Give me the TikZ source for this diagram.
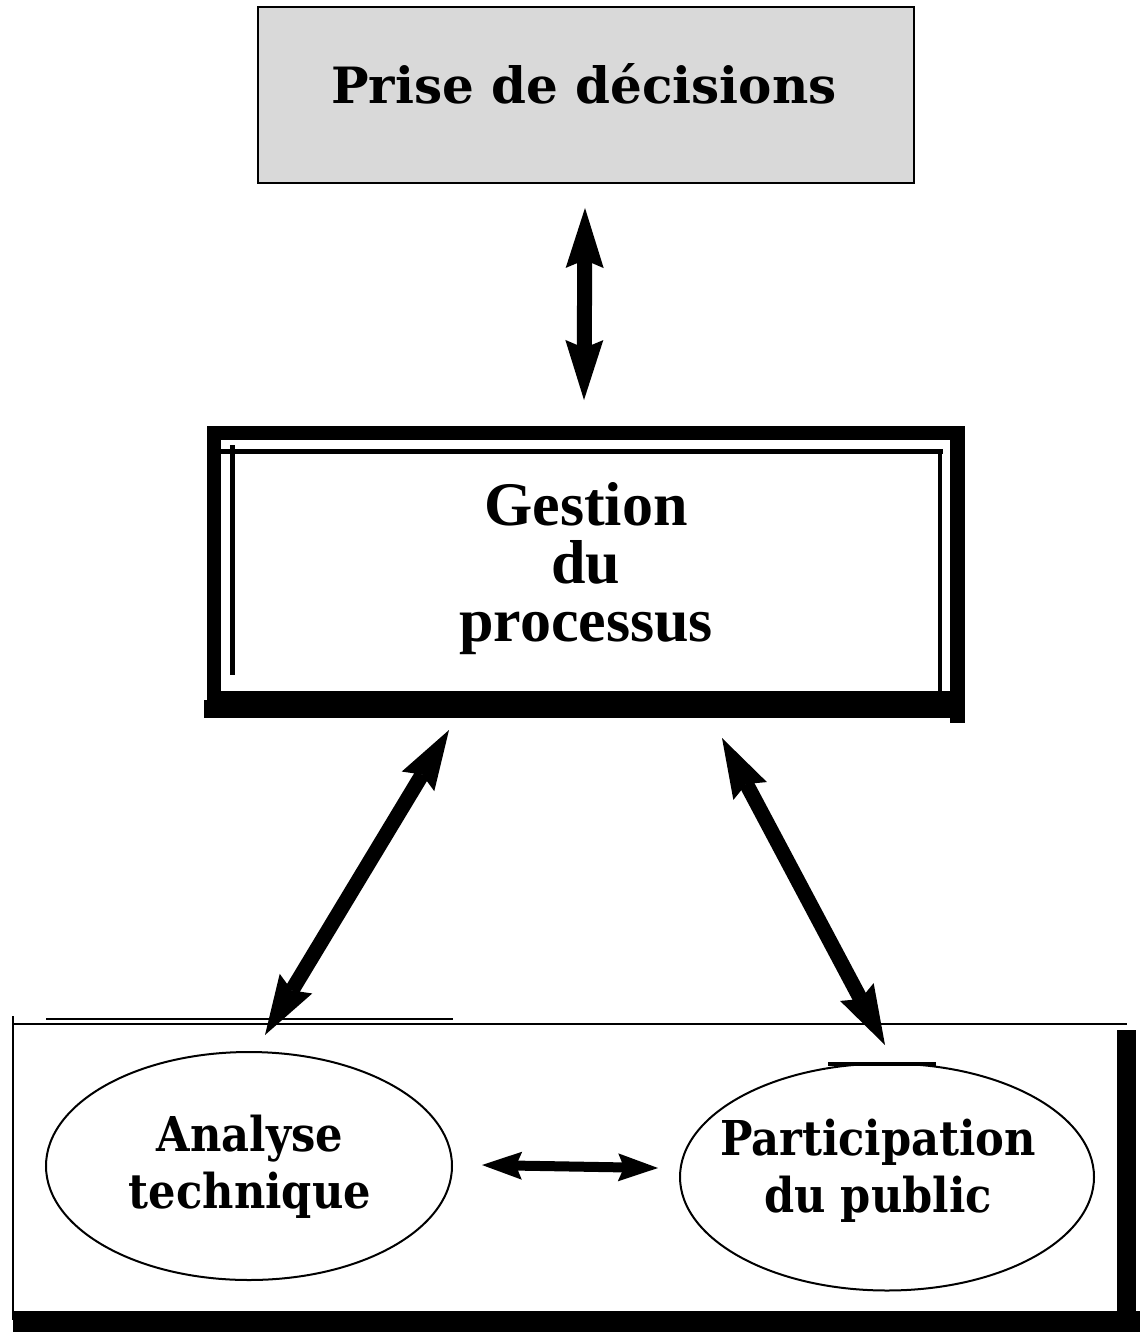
\documentclass[tikz,border=0pt]{standalone}
\usepackage{fontspec}
\setmainfont{Liberation Serif}
\newfontfamily\slab{DejaVu Serif}
\newfontfamily\slabnarrow[FakeStretch=0.9]{DejaVu Serif}
\usetikzlibrary{arrows.meta,shapes.geometric}
\begin{document}
\begin{tikzpicture}[x=0.5pt,y=-0.5pt,
  bigarrow/.style={line width=7.5pt,
    {Stealth[length=30pt,width=19pt,inset=4pt,line width=0pt]}-{Stealth[length=30pt,width=19pt,inset=4pt,line width=0pt]}},
  smallarrow/.style={line width=5pt,
    {Stealth[length=20pt,width=14pt,inset=3pt,line width=0pt]}-{Stealth[length=20pt,width=14pt,inset=3pt,line width=0pt]}},
  slabtext/.style={font=\slabnarrow\bfseries\fontsize{24}{28.5}\selectfont, align=center, inner sep=0pt},
  bubble/.style={ellipse, draw, line width=1pt, inner sep=0pt},
]
\useasboundingbox (0,0) rectangle (1142,1332);

% top box
\node[draw, line width=1pt, fill=black!15, minimum width=328pt, minimum height=88pt, inner sep=0pt] (top) at (586,95) {};
\node[font=\slab\bfseries\fontsize{25}{30}\selectfont, anchor=base, inner sep=0pt] (toptext) at (584,104) {Prise de décisions};

% middle framed box
\fill (207,426) rectangle (965,440);
\fill (207,426) rectangle (221,705);
\fill (950,426) rectangle (965,723);
\fill (207,691) rectangle (963,718);
\fill (204,700) rectangle (221,718);
\fill (221,449) rectangle (943,454);
\fill (230,445) rectangle (235,675);
\fill (938,453) rectangle (942,691);
\node[font=\bfseries\fontsize{31}{29}\selectfont, align=center, inner sep=0pt] (mid) at (586,569) {Gestion\\du\\processus};

% bottom frame
\draw[line width=1pt] (13,1016) -- (13,1320);
\draw[line width=1.1pt] (13,1024) -- (1127,1024);
\draw[line width=0.8pt] (46,1019) -- (453,1019);
\fill (1117,1030) rectangle (1136,1320);
\fill (13,1311) rectangle (1140,1332);

% ellipses
\node[bubble, minimum width=203pt, minimum height=114pt] (ta) at (249,1166) {};
\node[bubble, minimum width=207pt, minimum height=113.5pt] (pp) at (887,1177) {};
\draw[line width=2pt] (828,1063.5) -- (936,1063.5);
\node[slabtext] (talabel) at (250,1167) {Analyse\\technique};
\node[slabtext] (pplabel) at (878,1171) {Participation\\du public};

% arrow end points
\coordinate (v1) at (585,208);
\coordinate (v2) at (584,400);
\coordinate (l1) at (449,730);
\coordinate (l2) at (265,1035);
\coordinate (r1) at (722,738);
\coordinate (r2) at (885,1045);
\coordinate (h1) at (482,1165);
\coordinate (h2) at (658,1168);

\draw[bigarrow] (v1) -- (v2);
\draw[bigarrow] (l1) -- (l2);
\draw[bigarrow] (r1) -- (r2);
\draw[smallarrow] (h1) -- (h2);
\end{tikzpicture}
\end{document}
